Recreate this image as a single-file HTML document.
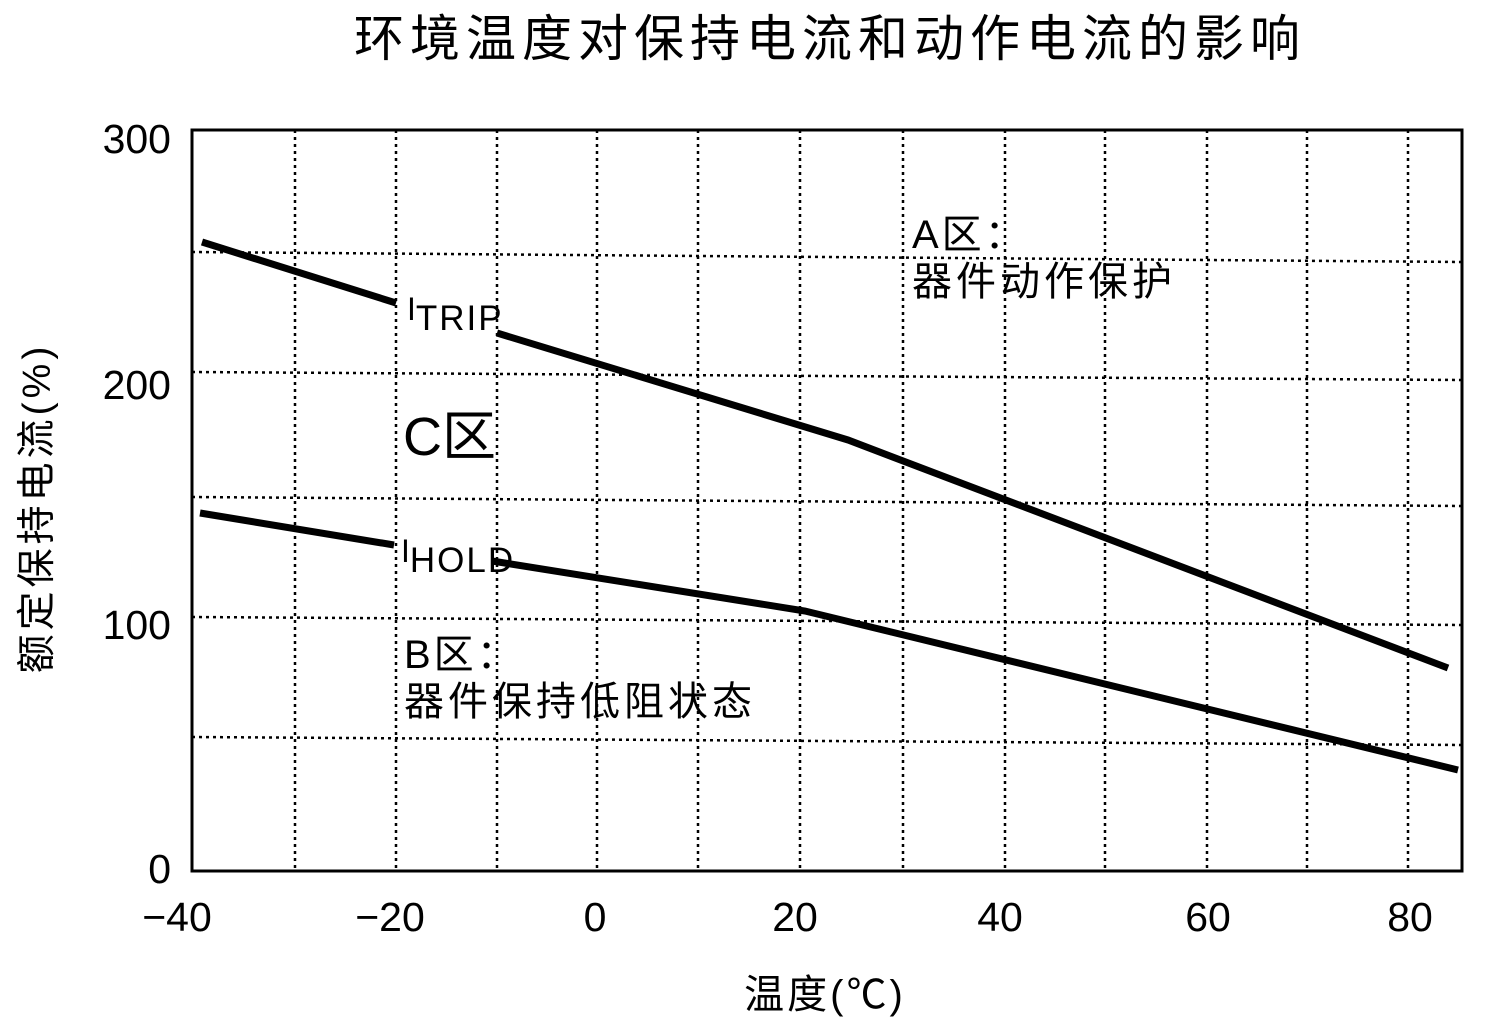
<!DOCTYPE html>
<html><head><meta charset="utf-8"><style>
body{margin:0;background:#fff}
svg text{font-family:"Liberation Sans","Noto Sans CJK SC",sans-serif;fill:#000}
</style></head><body>
<svg width="1489" height="1029" viewBox="0 0 1489 1029" xmlns="http://www.w3.org/2000/svg">
<text x="830" y="56" font-size="50" text-anchor="middle" letter-spacing="6">环境温度对保持电流和动作电流的影响</text>
<g stroke="#000" stroke-width="2.5" stroke-dasharray="3,4">
<line x1="295" y1="130" x2="295" y2="871"/><line x1="396" y1="130" x2="396" y2="871"/>
<line x1="497" y1="130" x2="497" y2="871"/><line x1="597" y1="130" x2="597" y2="871"/>
<line x1="698" y1="130" x2="698" y2="871"/><line x1="800" y1="130" x2="800" y2="871"/>
<line x1="903" y1="130" x2="903" y2="871"/><line x1="1005" y1="130" x2="1005" y2="871"/>
<line x1="1105" y1="130" x2="1105" y2="871"/><line x1="1207" y1="130" x2="1207" y2="871"/>
<line x1="1307" y1="130" x2="1307" y2="871"/><line x1="1408" y1="130" x2="1408" y2="871"/>
<line x1="192" y1="252" x2="1462" y2="262"/><line x1="192" y1="372" x2="1462" y2="380"/>
<line x1="192" y1="497" x2="1462" y2="506"/><line x1="192" y1="617" x2="1462" y2="625"/>
<line x1="192" y1="737" x2="1462" y2="745"/>
</g>
<rect x="192" y="130" width="1270" height="741" fill="none" stroke="#000" stroke-width="3"/>
<g font-size="41" text-anchor="end">
<text x="171" y="153">300</text><text x="171" y="399">200</text>
<text x="171" y="639">100</text><text x="171" y="883">0</text>
</g>
<g font-size="41" text-anchor="middle">
<text x="177" y="931">−40</text><text x="390" y="931">−20</text><text x="595" y="931">0</text>
<text x="795" y="931">20</text><text x="1000" y="931">40</text><text x="1208" y="931">60</text><text x="1410" y="931">80</text>
</g>
<text x="825" y="1008" font-size="40" text-anchor="middle" letter-spacing="3">温度(℃)</text>
<text transform="translate(50,508) rotate(-90)" font-size="39" text-anchor="middle" letter-spacing="4">额定保持电流(%)</text>
<g stroke="#000" stroke-width="7" fill="none">
<polyline points="202,242 396,303"/><polyline points="497,333 848,440 1448,668"/>
<polyline points="200,513 394,545"/><polyline points="492,561 805,611 1458,770"/>
</g>
<text x="407" y="320" font-size="32">I<tspan font-size="35" dy="10" letter-spacing="2">TRIP</tspan></text>
<text x="401" y="562" font-size="32">I<tspan font-size="35" dy="10" letter-spacing="2">HOLD</tspan></text>
<text x="403" y="455" font-size="54">C区</text>
<text x="912" y="248" font-size="40" letter-spacing="3">A区：</text>
<text x="912" y="295" font-size="40" letter-spacing="4">器件动作保护</text>
<text x="404" y="668" font-size="40" letter-spacing="3">B区：</text>
<text x="404" y="715" font-size="40" letter-spacing="4">器件保持低阻状态</text>
</svg>
</body></html>
